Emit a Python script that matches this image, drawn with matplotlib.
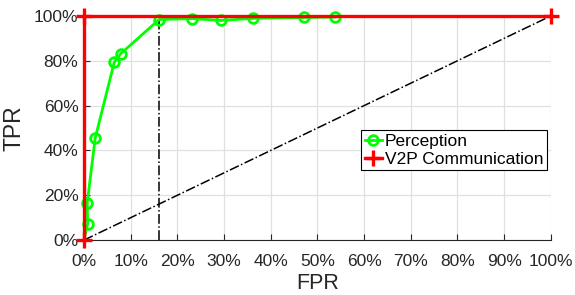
import matplotlib
matplotlib.use('Agg')
import matplotlib.pyplot as plt
from matplotlib.ticker import PercentFormatter

# ROC data (percent)
perc_fpr = [0.0, 0.8, 0.7, 2.4, 6.5, 7.9, 16.1, 23.2, 29.3, 36.3, 47.1, 53.7]
perc_tpr = [0.0, 7.3, 16.5, 45.4, 79.4, 83.2, 98.4, 98.8, 98.0, 98.9, 99.3, 99.5]
v2p_fpr = [0, 0, 100]
v2p_tpr = [0, 100, 100]
chance = [0, 100]
op_fpr = 16.1  # operating point marked by the dashed guide

plt.rcParams['font.family'] = ['Liberation Sans', 'DejaVu Sans']

fig = plt.figure(figsize=(5.75, 2.95), dpi=100)
ax = fig.add_axes([0.146, 0.186, 0.812, 0.76])

ax.grid(True, color='#e0e0e0', linewidth=0.9)
ax.set_axisbelow(True)

# guide lines
ax.plot(chance, chance, color='black', linestyle='-.', linewidth=1.1)
ax.plot([op_fpr, op_fpr], [0, 100], color='black', linestyle='-.', linewidth=1.1)
ax.plot([0, op_fpr], [100, 100], color='black', linestyle='-.', linewidth=1.1)

ax.plot(perc_fpr, perc_tpr, color='#00ff00', linewidth=2.0, marker='o',
        markersize=7, markerfacecolor='none', markeredgewidth=2.0,
        markevery=list(range(1, len(perc_fpr))),
        label='Perception', clip_on=False, zorder=3)
ax.plot(v2p_fpr, v2p_tpr, color='red', linewidth=2.4, marker='+',
        markersize=11, markeredgewidth=2.4, label='V2P Communication',
        clip_on=False, zorder=4)

ax.set_xlim(0, 100)
ax.set_ylim(0, 100)
ax.set_xticks(range(0, 101, 10))
ax.set_yticks(range(0, 101, 20))
ax.xaxis.set_major_formatter(PercentFormatter(decimals=0))
ax.yaxis.set_major_formatter(PercentFormatter(decimals=0))
ax.tick_params(direction='in', length=4, labelsize=12.5, colors='#262626', pad=4)
ax.tick_params(axis='x', pad=10)

for s in ['top', 'right']:
    ax.spines[s].set_visible(False)
for s in ['left', 'bottom']:
    ax.spines[s].set_color('#262626')

ax.set_xlabel('FPR', fontsize=15.5, color='#262626', labelpad=3)
ax.set_ylabel('TPR', fontsize=16.5, color='#262626', labelpad=6)

leg = ax.legend(loc='upper left', bbox_to_anchor=(0.594, 0.49), fontsize=12.5,
                handlelength=1.0, handletextpad=0.15, borderpad=0.2,
                labelspacing=0.15, fancybox=False, framealpha=1,
                borderaxespad=0)
leg.get_frame().set_edgecolor('black')
leg.get_frame().set_linewidth(0.8)

fig.savefig('out.png', dpi=100)
